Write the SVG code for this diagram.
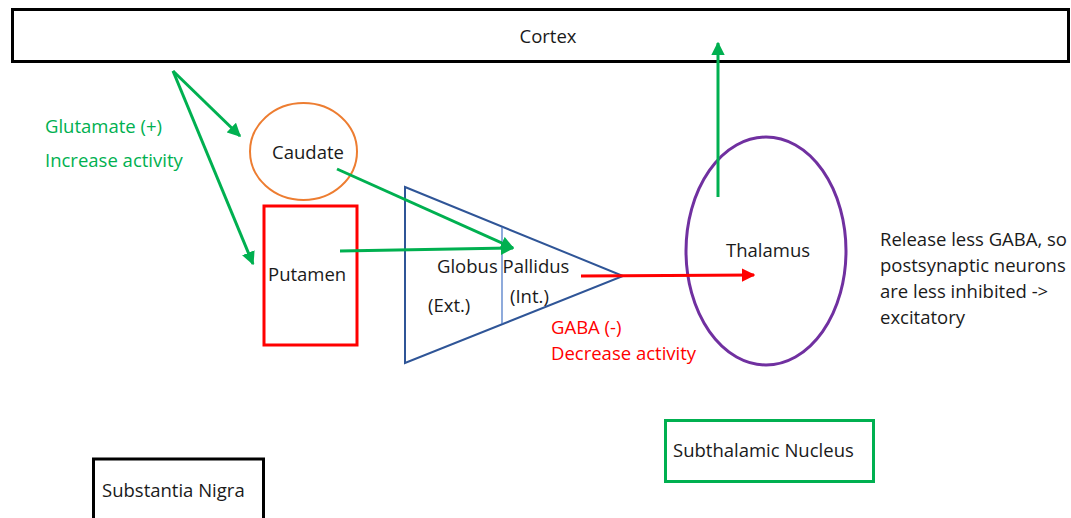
<svg xmlns="http://www.w3.org/2000/svg" width="1071" height="518" viewBox="0 0 1071 518">
<style>
text{font-family:"Open Sans","Liberation Sans",sans-serif;font-size:18.5px;fill:#1a1a1a}
.g{fill:#00B050}
.r{fill:#FF0000}
.ga{stroke:#00B050;stroke-width:3;fill:none}
.ra{stroke:#FF0000;stroke-width:3;fill:none}
</style>
<defs>
<marker id="ag" viewBox="0 0 10 10" refX="9" refY="5" markerWidth="4.5" markerHeight="4.5" orient="auto" markerUnits="strokeWidth"><path d="M0,0 L10,5 L0,10 z" fill="#00B050"/></marker>
<marker id="ar" viewBox="0 0 10 10" refX="9" refY="5" markerWidth="4.5" markerHeight="4.5" orient="auto" markerUnits="strokeWidth"><path d="M0,0 L10,5 L0,10 z" fill="#FF0000"/></marker>
</defs>
<rect width="1071" height="518" fill="#fff"/>
<g id="cortex"><rect x="12.5" y="9.5" width="1056" height="52" fill="none" stroke="#000" stroke-width="3"/><text x="548" y="43" text-anchor="middle">Cortex</text></g>
<g id="caudate"><ellipse cx="303.5" cy="151.5" rx="53.5" ry="48.5" fill="none" stroke="#ED7D31" stroke-width="2"/><text x="308" y="159" text-anchor="middle">Caudate</text></g>
<g id="putamen"><rect x="264" y="206" width="93" height="139" fill="none" stroke="#FF0000" stroke-width="3"/><text x="268" y="281">Putamen</text></g>
<g id="globus-pallidus"><path d="M405,187 L623,276 L405,363 Z" fill="none" stroke="#2F5597" stroke-width="2"/><path d="M502,227 L502,324" fill="none" stroke="#4472C4" stroke-width="1.2"/><text x="437" y="273">Globus Pallidus</text><text x="428" y="312">(Ext.)</text><text x="510" y="303">(Int.)</text></g>
<g id="thalamus"><ellipse cx="766" cy="251" rx="80" ry="114" fill="none" stroke="#7030A0" stroke-width="3"/><text x="726" y="257">Thalamus</text></g>
<g id="subthalamic-nucleus"><rect x="665.5" y="420.5" width="208" height="61" fill="none" stroke="#00B050" stroke-width="3"/><text x="673" y="457">Subthalamic Nucleus</text></g>
<g id="substantia-nigra"><rect x="93.5" y="459" width="170" height="70" fill="none" stroke="#000" stroke-width="3"/><text x="102" y="497">Substantia Nigra</text></g>
<g id="labels">
<text class="g" x="45" y="133">Glutamate (+)</text>
<text class="g" x="45" y="167">Increase activity</text>
<text class="r" x="551" y="334">GABA (-)</text>
<text class="r" x="551" y="360">Decrease activity</text>
<text x="880" y="246">Release less GABA, so</text>
<text x="880" y="272">postsynaptic neurons</text>
<text x="880" y="298">are less inhibited -&gt;</text>
<text x="880" y="324">excitatory</text>
</g>
<g id="connectors">
<line class="ga" x1="173" y1="71" x2="240" y2="136" marker-end="url(#ag)"/>
<line class="ga" x1="173" y1="71" x2="253" y2="264" marker-end="url(#ag)"/>
<line class="ga" x1="337" y1="169" x2="513" y2="248" marker-end="url(#ag)"/>
<line class="ga" x1="340" y1="251" x2="513" y2="248" marker-end="url(#ag)"/>
<line class="ra" x1="581" y1="276" x2="754" y2="275" marker-end="url(#ar)"/>
<line class="ga" x1="718" y1="197" x2="718" y2="43" marker-end="url(#ag)"/>
</g>
</svg>
